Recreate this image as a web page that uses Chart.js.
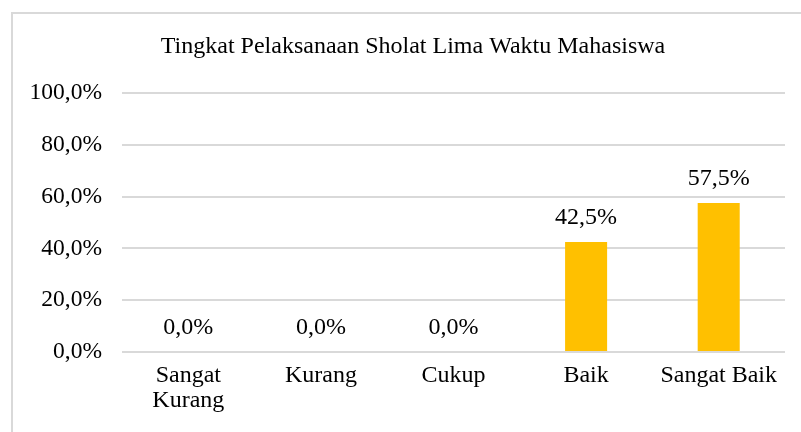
<!DOCTYPE html>
<html>
<head>
<meta charset="utf-8">
<script src="https://cdn.jsdelivr.net/npm/chart.js@4.4.0/dist/chart.umd.min.js"></script>
<style>
  html, body { margin: 0; padding: 0; background: #fff; overflow: hidden; }
  #frame { position: absolute; left: 11px; top: 12px; width: 900px; height: 600px; border: 2px solid #d9d9d9; }
  #wrap { position: absolute; left: 0; top: 0; width: 801px; height: 432px; }
</style>
</head>
<body>
<div id="frame"></div>
<div id="wrap"><canvas id="chart" width="801" height="432"></canvas></div>
<script>
// categories and values (percent)
const categories = [['Sangat', 'Kurang'], 'Kurang', 'Cukup', 'Baik', 'Sangat Baik'];
const values = [0, 0, 0, 42.5, 57.5];
const chartTitle = 'Tingkat Pelaksanaan Sholat Lima Waktu Mahasiswa';

const serif = '"Liberation Serif", "Times New Roman", serif';
const fmt = v => v.toFixed(1).replace('.', ',') + '%';

// title is centred on the outer frame, not the canvas, so draw it by hand
const titleText = {
  id: 'titleText',
  afterDraw(chart) {
    const ctx = chart.ctx;
    ctx.save();
    ctx.font = '24px ' + serif;
    ctx.fillStyle = '#000';
    ctx.textAlign = 'center';
    ctx.textBaseline = 'middle';
    ctx.fillText(chartTitle, 413, 47);
    ctx.restore();
  }
};

// draws the value above each bar
const barLabels = {
  id: 'barLabels',
  afterDatasetsDraw(chart) {
    const ctx = chart.ctx;
    const meta = chart.getDatasetMeta(0);
    ctx.save();
    ctx.font = '24px ' + serif;
    ctx.fillStyle = '#000';
    ctx.textAlign = 'center';
    ctx.textBaseline = 'alphabetic';
    meta.data.forEach((bar, i) => {
      ctx.fillText(fmt(values[i]), bar.x, bar.y - 18);
    });
    ctx.restore();
  }
};

new Chart(document.getElementById('chart'), {
  type: 'bar',
  data: {
    labels: categories,
    datasets: [{
      data: values,
      backgroundColor: '#FFC000',
      barPercentage: 0.317,
      categoryPercentage: 1
    }]
  },
  options: {
    responsive: false,
    animation: false,
    layout: { padding: { left: 10, right: 16, top: 93, bottom: 0 } },
    plugins: {
      legend: { display: false },
      tooltip: { enabled: false },
      title: { display: false }
    },
    scales: {
      x: {
        grid: { display: false, drawTicks: false },
        border: { display: false },
        ticks: { color: '#000', font: { family: serif, size: 24, lineHeight: 1.05 }, padding: 11, maxRotation: 0, autoSkip: false },
        afterFit(scale) { scale.height = 80; }
      },
      y: {
        min: 0,
        max: 100,
        grid: { color: '#d9d9d9', lineWidth: 2, drawTicks: false },
        border: { display: false },
        ticks: { stepSize: 20, color: '#000', font: { family: serif, size: 23.5 }, padding: 20, callback: v => fmt(v) },
        afterFit(scale) { scale.width = 112; }
      }
    }
  },
  plugins: [barLabels, titleText]
});
</script>
</body>
</html>
